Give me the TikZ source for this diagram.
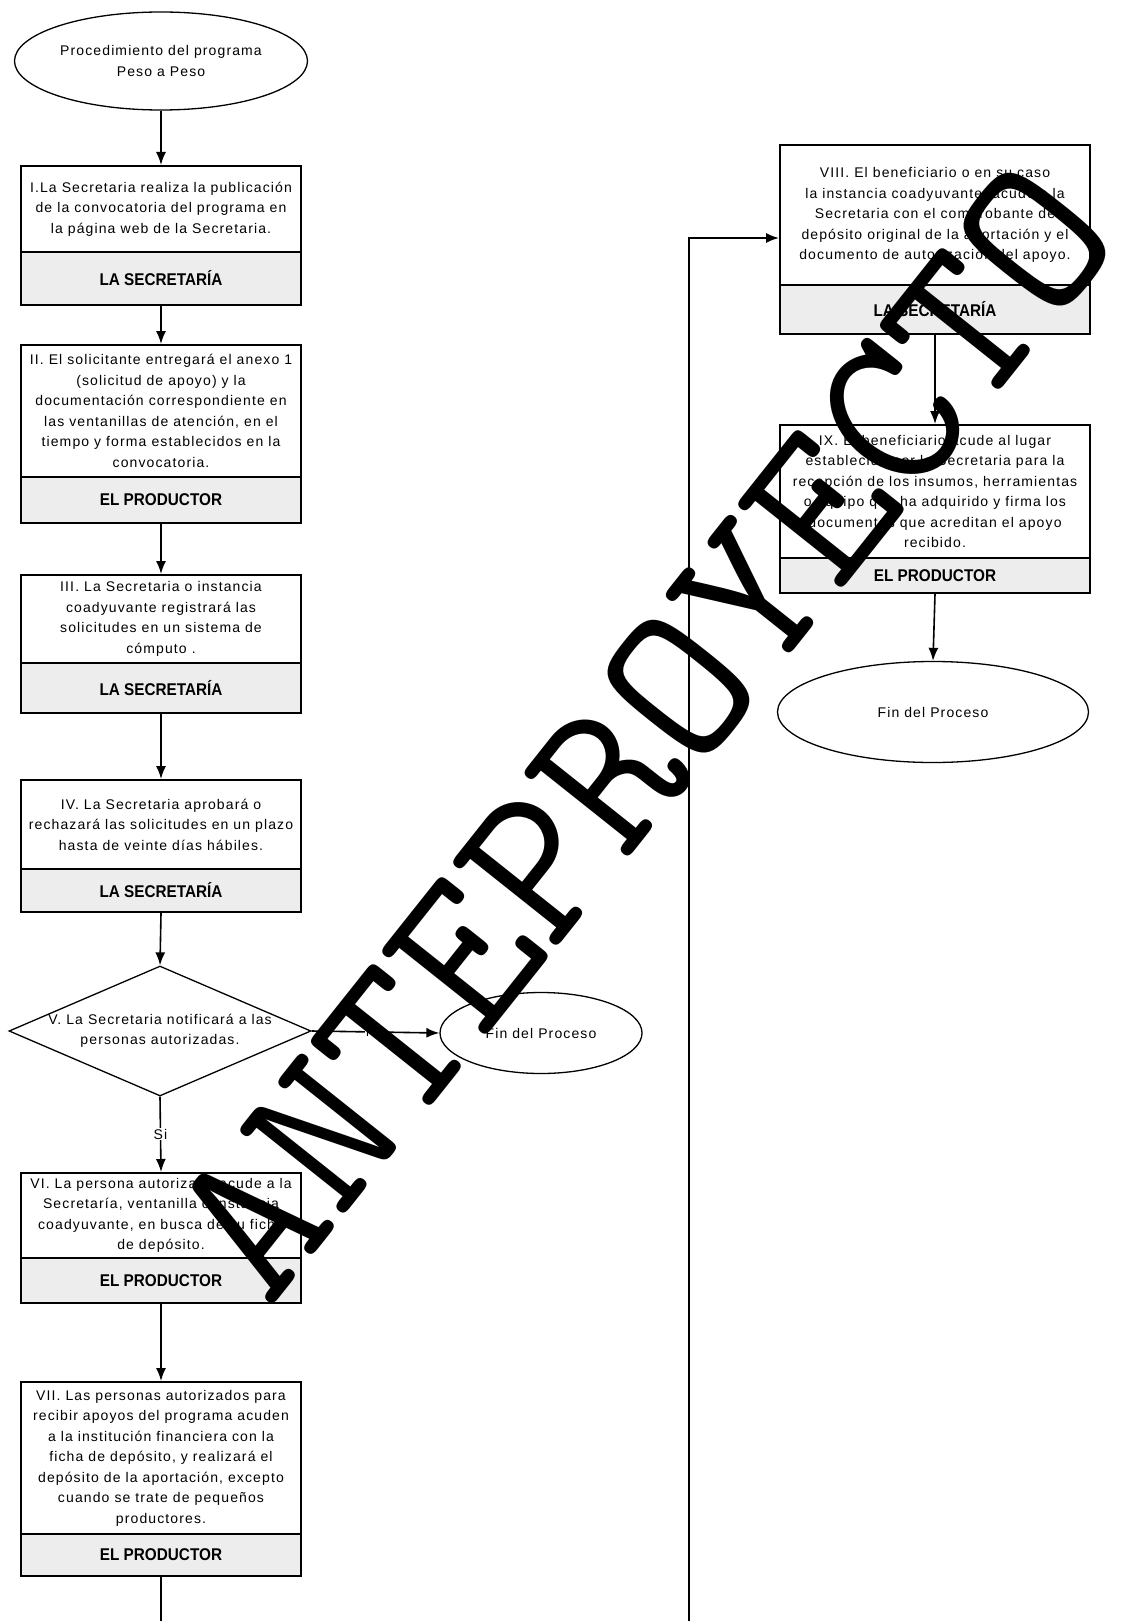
\documentclass[tikz,border=0pt]{standalone}
\usepackage{fontspec}
\setmainfont{Liberation Sans}
\newfontfamily\bodyf{Liberation Sans}[LetterSpace=8]
\newfontfamily\headf{Liberation Sans}[FakeStretch=0.9]
\usetikzlibrary{shapes.geometric,arrows.meta}
\newcommand\txtfont{\bodyf\fontsize{14}{20.5}\selectfont}
\newcommand\hdrfont{\headf\bfseries\fontsize{17}{20}\selectfont}
\newcommand\wmfont{\ttfamily\addfontfeature{FakeBold=6}\fontsize{222}{222}\selectfont}
\begin{document}
\begin{tikzpicture}[x=1pt,y=-1pt,
  bodybox/.style={draw, line width=2pt, minimum width=#1, inner sep=0pt, align=center, font=\txtfont},
  hdrbox/.style={draw, line width=2pt, fill=gray!14, minimum width=#1, inner sep=0pt, font=\hdrfont},
  conn/.style={line width=1.6pt},
  arr/.style={conn, -{Latex[length=13pt,width=10pt]}},
  oval/.style={ellipse, draw, line width=1.3pt, inner sep=0pt, align=center, font=\txtfont},
  lbl/.style={fill=white, inner sep=1pt, font=\txtfont}
]
\useasboundingbox (0,0) rectangle (1123,1621);

% start
\node[oval, minimum width=293pt, minimum height=98pt] (start) at (161,61) {Procedimiento del programa\\Peso a Peso};

% I
\node[bodybox=280pt, minimum height=86pt] (b1) at (161,209) {I.La Secretaria realiza la publicación\\de la convocatoria del programa en\\la página web de la Secretaria.};
\node[hdrbox=280pt, minimum height=53pt] (h1) at (161,278.5) {LA SECRETARÍA};

% II
\node[bodybox=280pt, minimum height=132pt] (b2) at (161,411) {II. El solicitante entregará el anexo 1\\(solicitud de apoyo) y la\\documentación correspondiente en\\las ventanillas de atención, en el\\tiempo y forma establecidos en la\\convocatoria.};
\node[hdrbox=280pt, minimum height=46pt] (h2) at (161,500) {EL PRODUCTOR};

% III
\node[bodybox=280pt, minimum height=88pt] (b3) at (161,619) {III. La Secretaria o instancia\\coadyuvante registrará las\\solicitudes en un sistema de\\cómputo .};
\node[hdrbox=280pt, minimum height=50pt] (h3) at (161,688) {LA SECRETARÍA};

% IV
\node[bodybox=280pt, minimum height=89pt] (b4) at (161,824.5) {IV. La Secretaria aprobará o\\rechazará las solicitudes en un plazo\\hasta de veinte días hábiles.};
\node[hdrbox=280pt, minimum height=43pt] (h4) at (161,890.5) {LA SECRETARÍA};

% V decision
\node[diamond, draw, line width=1.3pt, minimum width=302pt, minimum height=130pt, inner sep=0pt] (d5) at (160,1031) {};
\node[font=\txtfont, align=center, inner sep=0pt] (t5) at (d5.center) {V. La Secretaria notificará a las\\personas autorizadas.};

\node[oval, minimum width=202pt, minimum height=81pt] (fin1) at (541,1033) {Fin del Proceso};

% VI
\node[bodybox=280pt, minimum height=85pt] (b6) at (161,1215.5) {VI. La persona autorizada acude a la\\Secretaría, ventanilla o instancia\\coadyuvante, en busca de su ficha\\de depósito.};
\node[hdrbox=280pt, minimum height=45pt] (h6) at (161,1280.5) {EL PRODUCTOR};

% VII
\node[bodybox=280pt, minimum height=152pt] (b7) at (161,1458) {VII. Las personas autorizados para\\recibir apoyos del programa acuden\\a la institución financiera con la\\ficha de depósito,  y realizará el\\depósito de la aportación, excepto\\cuando se trate de pequeños\\productores.};
\node[hdrbox=280pt, minimum height=42pt] (h7) at (161,1555) {EL PRODUCTOR};

% VIII
\node[bodybox=310pt, minimum height=140pt] (b8) at (935,215) {VIII. El beneficiario o en su caso\\la instancia coadyuvante, acude a la\\Secretaria con el comprobante de\\depósito original de la aportación y el\\documento de autorización del apoyo.};
\node[hdrbox=310pt, minimum height=49pt] (h8) at (935,309.5) {LA SECRETARÍA};

% IX
\node[bodybox=310pt, minimum height=133pt] (b9) at (935,491.5) {IX. El beneficiario acude al lugar\\establecido por la Secretaria para la\\recepción de los insumos, herramientas\\o equipo que ha adquirido y firma los\\documentos que acreditan el apoyo\\recibido.};
\node[hdrbox=310pt, minimum height=35pt] (h9) at (935,575.5) {EL PRODUCTOR};

\node[oval, minimum width=311pt, minimum height=101pt] (fin2) at (933,712) {Fin del Proceso};

% connectors
\draw[arr] (start.south) -- (b1.north);
\draw[arr] (h1.south) -- (b2.north);
\draw[arr] (h2.south) -- (b3.north);
\draw[arr] (h3.south) -- (b4.north);
\draw[arr] (h4.south) -- (d5.north);
\draw[arr] (d5.east) -- node[lbl] {No} (fin1.west);
\draw[arr] (d5.south) -- node[lbl] {Si} (b6.north);
\draw[arr] (h6.south) -- (b7.north);
\coordinate (exitL) at (161,1621);
\draw[conn] (h7.south) -- (exitL);
\coordinate (entryR) at (689,1621);
\coordinate (turnR) at (689,238);
\draw[arr] (entryR) -- (turnR) -- (turnR -| b8.west);
\draw[arr] (h8.south) -- (b9.north);
\draw[arr] (h9.south) -- (fin2.north);

% watermark
\node[rotate=51.5, font=\wmfont, inner sep=0pt] (wm) at (643,731) {ANTEPROYECTO};
\end{tikzpicture}
\end{document}
